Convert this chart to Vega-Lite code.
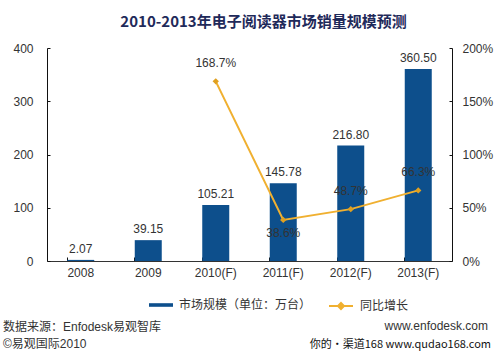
{
  "$schema": "https://vega.github.io/schema/vega-lite/v6.json",
  "autosize": {"type": "none"},
  "width": 405,
  "height": 213,
  "padding": {"left": 47, "top": 48, "right": 48, "bottom": 95},
  "background": "white",
  "config": {
    "view": {"stroke": null},
    "font": "Liberation Sans, Arial, Noto Sans CJK SC",
    "axis": {"labelFont": "Liberation Sans, Arial", "labelFontSize": 12, "labelColor": "#333333", "grid": false, "domainColor": "#111111", "tickColor": "#111111", "titleFontSize": 12},
    "legend": {"labelFont": "Liberation Sans, Noto Sans CJK SC", "labelFontSize": 12, "labelColor": "#333333"}
  },
  "title": {"text": "2010-2013年电子阅读器市场销量规模预测", "font": "Noto Sans CJK SC", "fontSize": 15, "fontWeight": "bold", "color": "#1f2a5a", "offset": 12, "dx": 14},
  "data": {"values": [
    {"year": "2008", "sales": 2.07, "growth": null},
    {"year": "2009", "sales": 39.15, "growth": null},
    {"year": "2010(F)", "sales": 105.21, "growth": 1.687},
    {"year": "2011(F)", "sales": 145.78, "growth": 0.386},
    {"year": "2012(F)", "sales": 216.80, "growth": 0.487},
    {"year": "2013(F)", "sales": 360.50, "growth": 0.663}
  ]},
  "encoding": {
    "x": {"field": "year", "type": "nominal", "sort": null,
      "scale": {"paddingInner": 0.6, "paddingOuter": 0.3},
      "axis": {"title": null, "labelAngle": 0, "bandPosition": 0, "tickSize": -4, "labelPadding": 10, "domainColor": "#333333"}}
  },
  "layer": [
    {
      "layer": [
        {
          "mark": {"type": "bar"},
          "encoding": {
            "y": {"field": "sales", "type": "quantitative", "scale": {"domain": [0, 400]},
              "axis": {"title": null, "values": [0, 100, 200, 300, 400], "tickSize": -3, "labelPadding": 17}},
            "color": {"datum": "市场规模（单位：万台）", "scale": {"range": ["#0d4f8c"]},
              "legend": {"title": null, "orient": "none", "legendX": 108, "legendY": 251, "symbolType": "M-2,-0.3H2V0.3H-2Z", "symbolSize": 144, "symbolStrokeWidth": 0, "labelOffset": 12, "padding": 0}}
          }
        },
        {
          "mark": {"type": "text", "dy": -11, "fontSize": 12, "color": "#333333"},
          "encoding": {
            "y": {"field": "sales", "type": "quantitative"},
            "text": {"field": "sales", "type": "quantitative", "format": ".2f"}
          }
        }
      ]
    },
    {
      "transform": [{"filter": "datum.growth != null"}],
      "layer": [
        {
          "mark": {"type": "line", "strokeWidth": 2},
          "encoding": {
            "y": {"field": "growth", "type": "quantitative", "scale": {"domain": [0, 2]},
              "axis": {"title": null, "orient": "right", "format": ".0%", "values": [0, 0.5, 1, 1.5, 2], "tickSize": -3, "labelPadding": 13}},
            "stroke": {"datum": "同比增长", "scale": {"range": ["#f0b030"]},
              "legend": {"title": null, "orient": "none", "legendX": 287, "legendY": 251, "symbolType": "M-2,0H2M0,-0.5L0.5,0L0,0.5L-0.5,0Z", "symbolSize": 144, "symbolFillColor": "#e0a020", "symbolStrokeWidth": 2, "labelOffset": 12, "padding": 0}}
          }
        },
        {
          "mark": {"type": "point", "shape": "diamond", "filled": true, "size": 40, "color": "#e0a020", "opacity": 1},
          "encoding": {"y": {"field": "growth", "type": "quantitative"}}
        },
        {
          "transform": [{"filter": "datum.growth > 0.4"}],
          "mark": {"type": "text", "dy": -18, "fontSize": 12, "color": "#333333"},
          "encoding": {
            "y": {"field": "growth", "type": "quantitative"},
            "text": {"field": "growth", "type": "quantitative", "format": ".1%"}
          }
        },
        {
          "transform": [{"filter": "datum.growth <= 0.4"}],
          "mark": {"type": "text", "dy": 13, "fontSize": 12, "color": "#333333"},
          "encoding": {
            "y": {"field": "growth", "type": "quantitative"},
            "text": {"field": "growth", "type": "quantitative", "format": ".1%"}
          }
        }
      ]
    },
    {
      "data": {"values": [{"note": "数据来源：Enfodesk易观智库"}]},
      "mark": {"type": "text", "align": "left", "baseline": "middle", "fontSize": 12, "color": "#333333", "font": "Liberation Sans, Noto Sans CJK SC"},
      "encoding": {"x": {"value": -44}, "y": {"value": 279}, "text": {"field": "note"}}
    },
    {
      "data": {"values": [{"note": "©易观国际2010"}]},
      "mark": {"type": "text", "align": "left", "baseline": "middle", "fontSize": 12, "color": "#333333", "font": "Liberation Sans, Noto Sans CJK SC"},
      "encoding": {"x": {"value": -44}, "y": {"value": 296}, "text": {"field": "note"}}
    },
    {
      "data": {"values": [{"note": "www.enfodesk.com"}]},
      "mark": {"type": "text", "align": "right", "baseline": "middle", "fontSize": 12, "color": "#333333", "font": "Liberation Sans, Noto Sans CJK SC"},
      "encoding": {"x": {"value": 441}, "y": {"value": 278}, "text": {"field": "note"}}
    },
    {
      "data": {"values": [{"note": "你的·渠道168 www.qudao168.com"}]},
      "mark": {"type": "text", "align": "right", "baseline": "middle", "fontSize": 11, "color": "#111111", "font": "Noto Sans CJK SC"},
      "encoding": {"x": {"value": 444}, "y": {"value": 297}, "text": {"field": "note"}}
    }
  ],
  "resolve": {"scale": {"y": "independent"}}
}
